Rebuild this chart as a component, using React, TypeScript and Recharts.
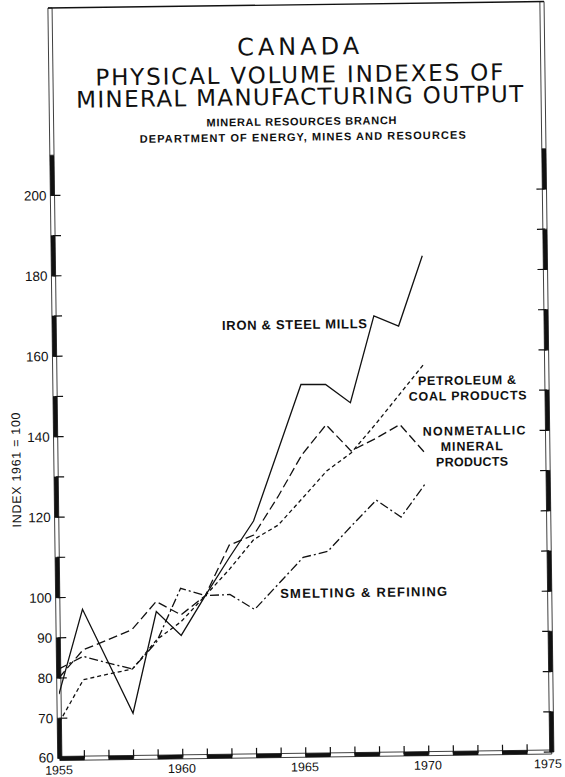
import React from 'react';
import { LineChart, Line, XAxis, YAxis, ReferenceArea } from 'recharts';

// Index values, 1961 = 100
const YEARS = [1955, 1956, 1957, 1958, 1959, 1960, 1961, 1962, 1963, 1964, 1965, 1966, 1967, 1968, 1969, 1970];
const IRON_STEEL = [76, 97, 84, 71, 96.2, 90.2, 100, 109.4, 118.4, 135.3, 152.2, 152.1, 147.5, 169, 166.4, 183.8];
const PETROLEUM_COAL = [69, 79.5, 80.8, 82, 89.2, 93.6, 100, 106.5, 113.8, 117.3, 123.9, 130.6, 135, 142, 149.4, 156.8];
const NONMETALLIC = [80, 86.9, 89.3, 91.8, 98.7, 95.3, 100, 112.5, 114.9, 124.3, 134.7, 142.1, 135.5, 138.5, 141.9, 134.8];
const SMELTING = [82.2, 85.3, 83.6, 82, 88.7, 101.9, 100, 100.2, 96.4, 102.8, 109.2, 110.6, 117, 123.2, 118.9, 127.1];

const X_TICKS = [1955, 1956, 1957, 1958, 1959, 1960, 1961, 1962, 1963, 1964, 1965, 1966, 1967, 1968, 1969, 1970, 1971, 1972, 1973, 1974, 1975];
const X_LABELS = [1955, 1960, 1965, 1970, 1975];
const Y_TICKS = [60, 70, 80, 90, 100, 110, 120, 130, 140, 150, 160, 170, 180, 190, 200];
const Y_LABELS = [60, 70, 80, 90, 100, 120, 140, 160, 180, 200];
const Y_BAR_BREAKS = [60, 70, 80, 90, 100, 110, 120, 130, 140, 150, 160, 170, 180, 190, 200, 210];

const W = 565;
const H = 777;
const Y_TOP = 246.6;
const INK = '#111';
const FONT = '"Liberation Sans", Arial, sans-serif';
const TITLE_FONT = '"DejaVu Sans", sans-serif';
// half thickness of the striped axis bars, in data units (~2px)
const BAR_X = 0.085;
const BAR_Y = 0.5;

const data = YEARS.map((year, i) => ({
  year,
  iron: IRON_STEEL[i],
  petroleum: PETROLEUM_COAL[i],
  nonmetallic: NONMETALLIC[i],
  smelting: SMELTING[i],
}));

const XTick = (props: any) => {
  const { x, y, payload } = props;
  const v = payload.value;
  // last label sits a little inside the right edge, like the print
  const lx = v === 1975 ? x - 4 : x - 1;
  return (
    <g>
      <line x1={x} y1={y} x2={x} y2={y - 8} stroke={INK} strokeWidth={1.2} />
      {X_LABELS.includes(v) && (
        <text x={lx} y={y + 16} textAnchor="middle" fontSize={12.5} fontFamily={FONT} fill={INK}>
          {v}
        </text>
      )}
    </g>
  );
};

const LeftTick = (props: any) => {
  const { x, y, payload } = props;
  const v = payload.value;
  return (
    <g>
      <line x1={x} y1={y} x2={x + 8} y2={y} stroke={INK} strokeWidth={1.2} />
      {Y_LABELS.includes(v) && (
        <text x={x - 6} y={v === 60 ? y + 3.8 : y + 4.8} textAnchor="end" fontSize={13.5} fontFamily={FONT} fill={INK}>
          {v}
        </text>
      )}
    </g>
  );
};

const RightTick = (props: any) => {
  const { x, y } = props;
  return <line x1={x - 8} y1={y} x2={x} y2={y} stroke={INK} strokeWidth={1.2} />;
};

const ySegments = Y_BAR_BREAKS.map((lo, i) => ({
  lo,
  hi: i < Y_BAR_BREAKS.length - 1 ? Y_BAR_BREAKS[i + 1] : Y_TOP,
  dark: i % 2 === 0 && i < Y_BAR_BREAKS.length - 1,
}));

const xSegments = X_TICKS.slice(0, -1).map((lo, i) => ({ lo, hi: X_TICKS[i + 1], dark: i % 2 === 0 }));

export default function App() {
  return (
    <div
      style={{
        position: 'absolute',
        left: 0,
        top: 0,
        width: W,
        height: H,
        background: '#fff',
        transform: 'rotate(-0.75deg)',
        transformOrigin: '282.5px 388.5px',
      }}
    >
      <LineChart width={W} height={H} data={data} margin={{ top: 5, right: 17, bottom: 0, left: 0 }}>
        <XAxis
          dataKey="year"
          type="number"
          domain={[1955, 1975]}
          ticks={X_TICKS}
          interval={0}
          height={21.5}
          axisLine={false}
          tickLine={false}
          tickSize={0}
          tickMargin={0}
          tick={(p: any) => <XTick {...p} />}
          allowDataOverflow
        />
        <YAxis
          yAxisId="left"
          type="number"
          domain={[60, Y_TOP]}
          ticks={Y_TICKS}
          interval={0}
          width={55}
          axisLine={false}
          tickLine={false}
          tickSize={0}
          tickMargin={0}
          tick={(p: any) => <LeftTick {...p} />}
          allowDataOverflow
        />
        <YAxis
          yAxisId="right"
          orientation="right"
          type="number"
          domain={[60, Y_TOP]}
          ticks={Y_TICKS}
          interval={0}
          width={1}
          axisLine={false}
          tickLine={false}
          tickSize={0}
          tickMargin={0}
          tick={(p: any) => <RightTick {...p} />}
          allowDataOverflow
        />

        <Line yAxisId="left" dataKey="iron" stroke={INK} strokeWidth={1.3} dot={false} isAnimationActive={false} />
        <Line yAxisId="left" dataKey="nonmetallic" stroke={INK} strokeWidth={1.3} strokeDasharray="9 4" dot={false} isAnimationActive={false} />
        <Line yAxisId="left" dataKey="petroleum" stroke={INK} strokeWidth={1.3} strokeDasharray="4 3" dot={false} isAnimationActive={false} />
        <Line yAxisId="left" dataKey="smelting" stroke={INK} strokeWidth={1.3} strokeDasharray="9 3 2 3" dot={false} isAnimationActive={false} />

        {/* striped axis bars */}
        {xSegments.map((s) => (
          <ReferenceArea
            key={`xb-${s.lo}`}
            yAxisId="left"
            x1={s.lo}
            x2={s.hi}
            y1={60 - BAR_Y}
            y2={60 + BAR_Y}
            fill={s.dark ? INK : '#fff'}
            fillOpacity={1}
            stroke={INK}
            strokeWidth={0.8}
            ifOverflow="visible"
          />
        ))}
        {ySegments.map((s) => (
          <ReferenceArea
            key={`lb-${s.lo}`}
            yAxisId="left"
            x1={1955 - BAR_X}
            x2={1955 + BAR_X}
            y1={s.lo}
            y2={s.hi}
            fill={s.dark ? INK : '#fff'}
            fillOpacity={1}
            stroke={INK}
            strokeWidth={0.8}
            ifOverflow="visible"
          />
        ))}
        {ySegments.map((s) => (
          <ReferenceArea
            key={`rb-${s.lo}`}
            yAxisId="left"
            x1={1975 - BAR_X}
            x2={1975 + BAR_X}
            y1={s.lo}
            y2={s.hi}
            fill={s.dark ? INK : '#fff'}
            fillOpacity={1}
            stroke={INK}
            strokeWidth={0.8}
            ifOverflow="visible"
          />
        ))}
      </LineChart>

      <svg
        width={W}
        height={H}
        style={{ position: 'absolute', left: 0, top: 0, pointerEvents: 'none' }}
        fontFamily={FONT}
        fill={INK}
      >
        <line x1={53} y1={5} x2={549} y2={5} stroke={INK} strokeWidth={1.4} />

        <g fontFamily={TITLE_FONT}>
          <text x={302.5} y={55} textAnchor="middle" fontSize={24} textLength={122} lengthAdjust="spacing">CANADA</text>
          <text x={303.5} y={83} textAnchor="middle" fontSize={23} textLength={408} lengthAdjust="spacing">PHYSICAL VOLUME INDEXES OF</text>
          <text x={303.5} y={105} textAnchor="middle" fontSize={23} textLength={447} lengthAdjust="spacing">MINERAL MANUFACTURING OUTPUT</text>
        </g>
        <text x={305} y={125.5} textAnchor="middle" fontSize={11} fontWeight="bold" textLength={190} lengthAdjust="spacing">MINERAL RESOURCES BRANCH</text>
        <text x={306} y={141} textAnchor="middle" fontSize={11} fontWeight="bold" textLength={326} lengthAdjust="spacing">DEPARTMENT OF ENERGY, MINES AND RESOURCES</text>

        <text x={222.8} y={329.2} fontSize={13} fontWeight="bold" textLength={145} lengthAdjust="spacing">IRON &amp; STEEL MILLS</text>
        <text x={467} y={387} textAnchor="middle" fontSize={12.5} fontWeight="bold" textLength={98} lengthAdjust="spacing">PETROLEUM &amp;</text>
        <text x={467.5} y={402.5} textAnchor="middle" fontSize={12.5} fontWeight="bold" textLength={118} lengthAdjust="spacing">COAL PRODUCTS</text>
        <text x={473.5} y={437.5} textAnchor="middle" fontSize={12.5} fontWeight="bold" textLength={103} lengthAdjust="spacing">NONMETALLIC</text>
        <text x={471} y={453} textAnchor="middle" fontSize={12.5} fontWeight="bold" textLength={62} lengthAdjust="spacing">MINERAL</text>
        <text x={471} y={468.5} textAnchor="middle" fontSize={12.5} fontWeight="bold" textLength={72} lengthAdjust="spacing">PRODUCTS</text>
        <text x={277.5} y={598} fontSize={13} fontWeight="bold" textLength={167} lengthAdjust="spacing">SMELTING &amp; REFINING</text>

        <text
          x={0}
          y={0}
          transform="translate(19.5 466.5) rotate(-90)"
          textAnchor="middle"
          fontSize={12.5}
          textLength={115}
          lengthAdjust="spacing"
        >
          INDEX 1961 = 100
        </text>
      </svg>
    </div>
  );
}
